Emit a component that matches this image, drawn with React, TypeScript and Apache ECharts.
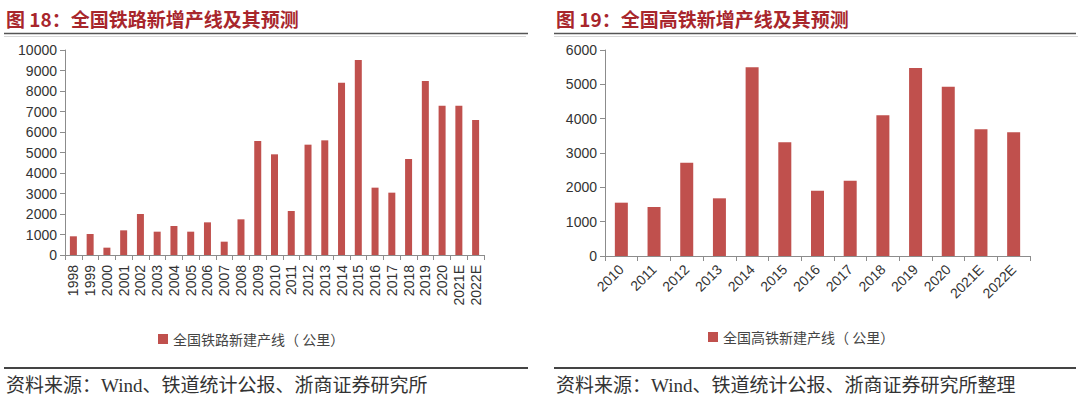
import React, { useEffect, useRef } from "react";
import * as echarts from "echarts";

const railCategories = ["1998","1999","2000","2001","2002","2003","2004","2005","2006","2007","2008","2009","2010","2011","2012","2013","2014","2015","2016","2017","2018","2019","2020","2021E","2022E"];
const railValues = [912, 1024, 358, 1203, 2000, 1138, 1415, 1138, 1593, 650, 1740, 5561, 4911, 2146, 5382, 5593, 8405, 9512, 3285, 3041, 4683, 8488, 7285, 7285, 6585];
const railYTicks = { min: 0, max: 10000, interval: 1000 };

const hsrCategories = ["2010","2011","2012","2013","2014","2015","2016","2017","2018","2019","2020","2021E","2022E"];
const hsrValues = [1553, 1427, 2718, 1680, 5496, 3311, 1903, 2194, 4097, 5476, 4932, 3690, 3602];
const hsrYTicks = { min: 0, max: 6000, interval: 1000 };

const titleLeft = "图 18：全国铁路新增产线及其预测";
const titleRight = "图 19：全国高铁新增产线及其预测";
const legendLeft = "全国铁路新建产线（ 公里）";
const legendRight = "全国高铁新建产线（ 公里）";
const sourceLeft = "资料来源：Wind、铁道统计公报、浙商证券研究所";
const sourceRight = "资料来源：Wind、铁道统计公报、浙商证券研究所整理";

const BAR = "#c0504d";
const AXIS = "#8c8c8c";
const LABEL = "#333333";
const SANS = "Liberation Sans, Arial, Noto Sans CJK SC, sans-serif";
const CJK = "Noto Sans CJK SC, sans-serif";
const SERIF = "Liberation Serif, Noto Sans CJK SC, serif";

export default function App() {
  const ref = useRef<HTMLDivElement>(null);
  useEffect(() => {
    if (!ref.current) return;
    const chart = echarts.init(ref.current, null, { renderer: "svg" });
    const xAxisCommon = (data: string[], idx: number, rotate: number, margin: number) => ({
      type: "category",
      gridIndex: idx,
      data,
      boundaryGap: true,
      axisLine: { show: true, lineStyle: { color: AXIS, width: 1 } },
      axisTick: { show: true, inside: false, length: 5, alignWithLabel: false, lineStyle: { color: AXIS } },
      axisLabel: { rotate, margin, interval: 0, color: LABEL, fontSize: 14, fontFamily: SANS },
      splitLine: { show: false },
    });
    const yAxisCommon = (idx: number, t: { min: number; max: number; interval: number }) => ({
      type: "value",
      gridIndex: idx,
      min: t.min,
      max: t.max,
      interval: t.interval,
      axisLine: { show: true, lineStyle: { color: AXIS, width: 1 } },
      axisTick: { show: true, inside: false, length: 5, lineStyle: { color: AXIS } },
      axisLabel: {
        margin: 8,
        color: LABEL,
        fontSize: 14,
        fontFamily: SANS,
        formatter: (v: number) => String(v),
      },
      splitLine: { show: false },
    });
    const titleText = (x: number, text: string) => ({
      type: "text",
      x,
      y: 18,
      style: { text, fill: "#a8262c", font: `bold 19px ${CJK}`, textVerticalAlign: "middle" },
    });
    const hline = (x1: number, x2: number, y: number, color: string, w: number) => ({
      type: "line",
      shape: { x1, y1: y, x2, y2: y },
      style: { stroke: color, lineWidth: w },
    });
    const sourceText = (x: number, text: string) => ({
      type: "text",
      x,
      y: 385,
      style: { text, fill: "#333", font: `19px ${SERIF}`, textVerticalAlign: "middle" },
    });
    chart.setOption({
      animation: false,
      backgroundColor: "#ffffff",
      grid: [
        { left: 65, right: 1080 - 484, top: 50, bottom: 396 - 255 },
        { left: 605, right: 1080 - 1030, top: 50, bottom: 396 - 256 },
      ],
      xAxis: [
        xAxisCommon(railCategories, 0, 90, 10),
        xAxisCommon(hsrCategories, 1, 45, 11),
      ],
      yAxis: [yAxisCommon(0, railYTicks), yAxisCommon(1, hsrYTicks)],
      legend: [
        {
          data: [legendLeft],
          left: 153,
          top: 327,
          icon: "rect",
          itemWidth: 10,
          itemHeight: 10,
          itemGap: 5,
          textStyle: { color: "#444", fontSize: 14, fontFamily: CJK },
        },
        {
          data: [legendRight],
          left: 703,
          top: 325,
          icon: "rect",
          itemWidth: 10,
          itemHeight: 10,
          itemGap: 5,
          textStyle: { color: "#444", fontSize: 14, fontFamily: CJK },
        },
      ],
      series: [
        {
          type: "bar",
          name: legendLeft,
          xAxisIndex: 0,
          yAxisIndex: 0,
          data: railValues,
          barWidth: 7,
          itemStyle: { color: BAR },
        },
        {
          type: "bar",
          name: legendRight,
          xAxisIndex: 1,
          yAxisIndex: 1,
          data: hsrValues,
          barWidth: 13,
          itemStyle: { color: BAR },
        },
      ],
      graphic: [
        titleText(6, titleLeft),
        titleText(556, titleRight),
        hline(4, 528, 33.5, "#555", 1.5),
        hline(554, 1076, 33.5, "#555", 1.5),
        hline(4, 526, 36.5, "#d8d8d8", 1),
        hline(554, 1078, 36.5, "#d8d8d8", 1),
        hline(4, 528, 368, "#444", 2),
        hline(554, 1076, 368, "#444", 2),
        sourceText(6, sourceLeft),
        sourceText(556, sourceRight),
      ],
    });
    return () => chart.dispose();
  }, []);
  return (
    <div
      ref={ref}
      style={{ position: "fixed", left: 0, top: 0, width: 1080, height: 396, background: "#fff" }}
    />
  );
}
